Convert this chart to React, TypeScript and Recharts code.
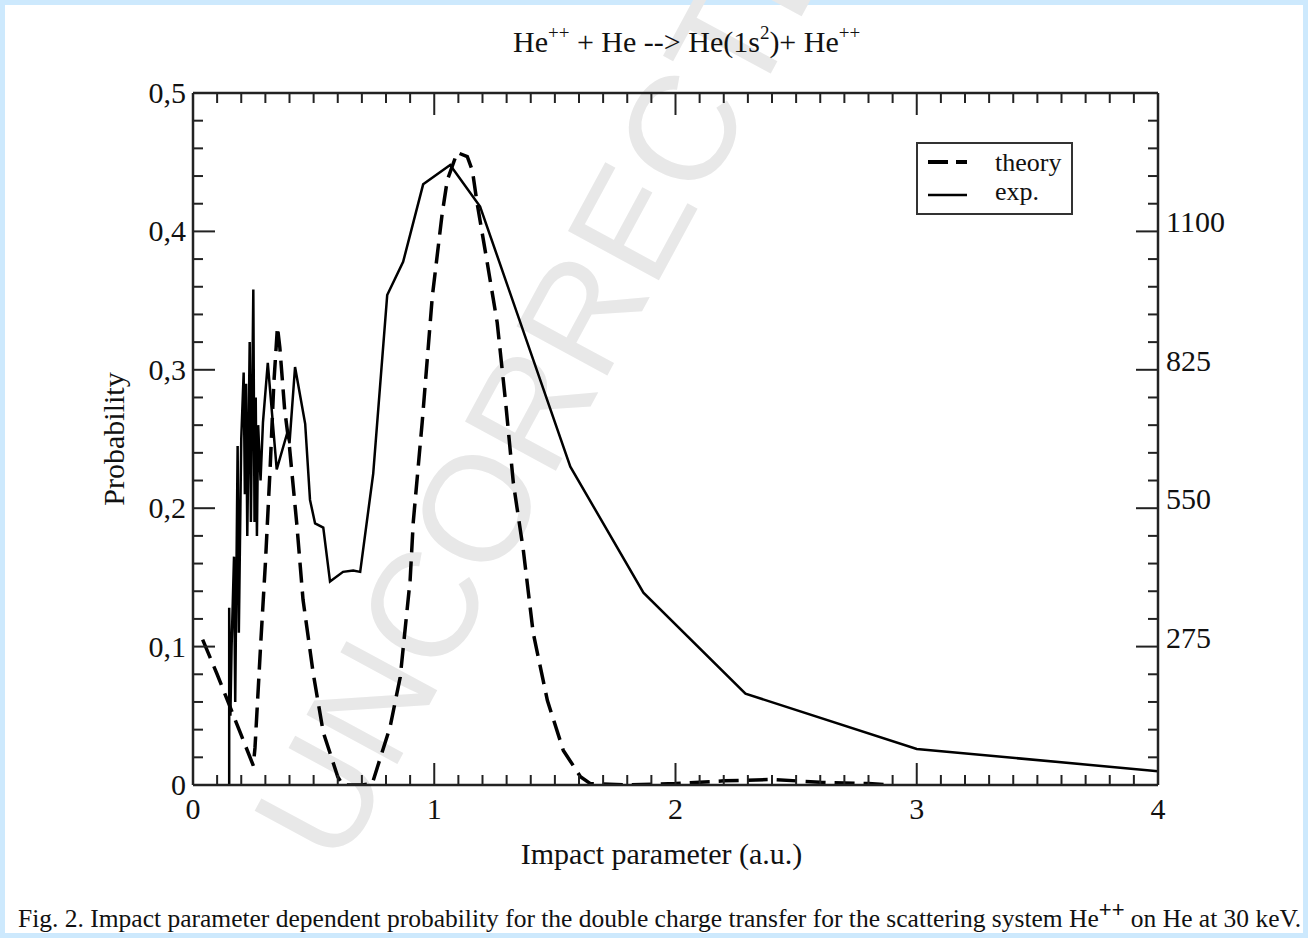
import React from 'react';
import { LineChart, Line, XAxis, YAxis, Legend } from 'recharts';

// theory curve (dashed)
const theoryB = [0.04, 0.1, 0.15, 0.2, 0.25, 0.257, 0.28, 0.3, 0.32, 0.335, 0.35, 0.36, 0.38, 0.4, 0.43, 0.456, 0.498, 0.54, 0.6, 0.62, 0.7, 0.743, 0.817, 0.859, 0.9, 0.913, 0.95, 0.992, 1.033, 1.054, 1.095, 1.137, 1.158, 1.178, 1.22, 1.261, 1.295, 1.328, 1.369, 1.41, 1.469, 1.535, 1.606, 1.647, 1.8, 2.0, 2.2, 2.4, 2.6, 2.8, 2.9];
const theoryP = [0.105, 0.08, 0.058, 0.036, 0.014, 0.027, 0.1, 0.16, 0.23, 0.29, 0.331, 0.316, 0.271, 0.244, 0.189, 0.134, 0.081, 0.038, 0.006, 0, 0, 0.001, 0.042, 0.078, 0.148, 0.19, 0.262, 0.353, 0.413, 0.437, 0.457, 0.454, 0.444, 0.42, 0.377, 0.334, 0.278, 0.218, 0.17, 0.11, 0.061, 0.025, 0.006, 0.001, 0, 0.001, 0.003, 0.004, 0.002, 0.001, 0];

// experiment (solid)
const expB = [0.15, 0.15, 0.155, 0.16, 0.17, 0.175, 0.185, 0.19, 0.2, 0.21, 0.215, 0.22, 0.225, 0.235, 0.24, 0.25, 0.255, 0.26, 0.265, 0.27, 0.28, 0.29, 0.31, 0.347, 0.39, 0.4, 0.423, 0.465, 0.485, 0.506, 0.54, 0.568, 0.622, 0.664, 0.693, 0.747, 0.805, 0.871, 0.954, 1.066, 1.19, 1.564, 1.867, 2.29, 3.0, 4.0];
const expP = [0, 0.128, 0.05, 0.1, 0.165, 0.06, 0.245, 0.11, 0.25, 0.298, 0.21, 0.29, 0.18, 0.32, 0.19, 0.358, 0.19, 0.28, 0.18, 0.26, 0.22, 0.262, 0.305, 0.228, 0.254, 0.247, 0.302, 0.261, 0.206, 0.189, 0.186, 0.147, 0.154, 0.155, 0.154, 0.225, 0.354, 0.378, 0.434, 0.448, 0.418, 0.23, 0.139, 0.066, 0.026, 0.01];

const xTicks = Array.from({ length: 41 }, (_, i) => i / 10);
const yTicks = Array.from({ length: 26 }, (_, i) => i / 50);
const rightTicks = Array.from({ length: 26 }, (_, i) => i * 55);
const rightLabels = [275, 550, 825, 1100];

const theory = theoryB.map((b, i) => ({ b, p: theoryP[i] }));
const exp = expB.map((b, i) => ({ b, p: expP[i] }));

const FONT = '"Liberation Serif", "Times New Roman", serif';
const MAJOR = 22;
const MINOR = 10;

const BottomTick = (props: any) => {
  const { x, y, payload } = props;
  const v = payload.value;
  const major = Number.isInteger(Math.round(v * 1000) / 1000);
  return (
    <g>
      <line x1={x} y1={y} x2={x} y2={y - (major ? MAJOR : MINOR)} stroke="#222" strokeWidth={2} />
      {major && (
        <text x={x} y={y + 34} textAnchor="middle" fontFamily={FONT} fontSize={30} fill="#111">
          {Math.round(v)}
        </text>
      )}
    </g>
  );
};

const TopTick = (props: any) => {
  const { x, y, payload } = props;
  const major = Number.isInteger(Math.round(payload.value * 1000) / 1000);
  return <line x1={x} y1={y} x2={x} y2={y + (major ? MAJOR : MINOR)} stroke="#222" strokeWidth={2} />;
};

const LeftTick = (props: any) => {
  const { x, y, payload } = props;
  const k = Math.round(payload.value * 50);
  const major = k % 5 === 0;
  const label = k === 0 ? '0' : payload.value.toFixed(1).replace('.', ',');
  return (
    <g>
      <line x1={x} y1={y} x2={x + (major ? MAJOR : MINOR)} y2={y} stroke="#222" strokeWidth={2} />
      {major && (
        <text x={x - 7} y={y + 10} textAnchor="end" fontFamily={FONT} fontSize={30} fill="#111">
          {label}
        </text>
      )}
    </g>
  );
};

const RightTick = (props: any) => {
  const { x, y, payload } = props;
  const v = payload.value;
  const major = v % 275 === 0;
  return (
    <g>
      <line x1={x} y1={y} x2={x - (major ? MAJOR : MINOR)} y2={y} stroke="#222" strokeWidth={2} />
      {rightLabels.includes(v) && (
        <text x={x + 8} y={y + 1} textAnchor="start" fontFamily={FONT} fontSize={30} fill="#111">
          {v}
        </text>
      )}
    </g>
  );
};

const LegendBox = () => (
  <svg width={157} height={73} style={{ display: 'block' }}>
    <rect x={1} y={1} width={155} height={71} fill="#fff" stroke="#333" strokeWidth={2} />
    <line x1={12} y1={20} x2={51} y2={20} stroke="#000" strokeWidth={4} strokeDasharray="20 8" />
    <line x1={12} y1={53} x2={51} y2={53} stroke="#000" strokeWidth={2.5} />
    <text x={79} y={29} fontFamily={FONT} fontSize={26} fill="#111">theory</text>
    <text x={79} y={58} fontFamily={FONT} fontSize={26} fill="#111">exp.</text>
  </svg>
);

export default function App() {
  return (
    <div style={{ position: 'fixed', left: 0, top: 0, width: 1308, height: 938, background: '#cde9fd' }}>
      <div style={{ position: 'absolute', left: 5, top: 5, width: 1298, height: 928, background: '#fff' }} />
      <svg width={1308} height={938} style={{ position: 'absolute', left: 0, top: 0 }}>
        <text
          x={340}
          y={870}
          transform="rotate(-61.6 340 870)"
          fontFamily='"Liberation Sans", Arial, sans-serif'
          fontSize={150}
          fill="#e8e8e8"
        >
          UNCORRECTED PROOF
        </text>
        <text x={513} y={52} fontFamily={FONT} fontSize={30} fill="#111">
          He<tspan dy={-13} fontSize={19}>++</tspan>
          <tspan dy={13}> + He --&gt; He(1s</tspan>
          <tspan dy={-13} fontSize={19}>2</tspan>
          <tspan dy={13}>)+ He</tspan>
          <tspan dy={-13} fontSize={19}>++</tspan>
        </text>
        <text x={18} y={927} fontFamily={FONT} fontSize={25.5} fill="#111">
          Fig. 2. Impact parameter dependent probability for the double charge transfer for the scattering system He
          <tspan dy={-10} fontSize={22} fontFamily='"Liberation Sans", Arial, sans-serif'>++</tspan>
          <tspan dy={10}> on He at 30 keV.</tspan>
        </text>
      </svg>
      <div style={{ position: 'absolute', left: 0, top: 0 }}>
        <LineChart width={1308} height={938} margin={{ top: 63, right: 70, bottom: 93, left: 113 }}>
          <XAxis
            xAxisId="bottom"
            dataKey="b"
            type="number"
            domain={[0, 4]}
            ticks={xTicks}
            interval={0}
            height={60}
            tickSize={0}
            tickMargin={0}
            tickLine={false}
            tick={<BottomTick />}
            axisLine={{ stroke: '#222', strokeWidth: 2.5 }}
            allowDataOverflow
            label={{
              content: (p: any) => {
                const vb = p.viewBox;
                return (
                  <text x={vb.x + vb.width / 2 - 14} y={vb.y + 79} textAnchor="middle" fontFamily={FONT} fontSize={30} fill="#111">
                    Impact parameter (a.u.)
                  </text>
                );
              },
            }}
          />
          <XAxis
            xAxisId="top"
            orientation="top"
            dataKey="b"
            type="number"
            domain={[0, 4]}
            ticks={xTicks}
            interval={0}
            height={30}
            tickSize={0}
            tickMargin={0}
            tickLine={false}
            tick={<TopTick />}
            axisLine={{ stroke: '#222', strokeWidth: 2.5 }}
            allowDataOverflow
          />
          <YAxis
            yAxisId="left"
            type="number"
            domain={[0, 0.5]}
            ticks={yTicks}
            interval={0}
            width={80}
            tickSize={0}
            tickMargin={0}
            tickLine={false}
            tick={<LeftTick />}
            axisLine={{ stroke: '#222', strokeWidth: 2.5 }}
            allowDataOverflow
            label={{
              content: (p: any) => {
                const vb = p.viewBox;
                const cx = vb.x;
                const cy = vb.y + vb.height / 2;
                return (
                  <text x={cx} y={cy} transform={`rotate(-90 ${cx} ${cy})`} textAnchor="middle" dominantBaseline="central" fontFamily={FONT} fontSize={30} fill="#111">
                    Probability
                  </text>
                );
              },
            }}
          />
          <YAxis
            yAxisId="right"
            orientation="right"
            type="number"
            domain={[0, 1375]}
            ticks={rightTicks}
            interval={0}
            width={80}
            tickSize={0}
            tickMargin={0}
            tickLine={false}
            tick={<RightTick />}
            axisLine={{ stroke: '#222', strokeWidth: 2.5 }}
            allowDataOverflow
          />
          <Legend
            layout="horizontal"
            align="center"
            verticalAlign="middle"
            content={<LegendBox />}
            wrapperStyle={{ position: 'absolute', left: 916, top: 142, width: 157, height: 73 }}
          />
          <Line
            xAxisId="bottom"
            yAxisId="left"
            data={theory}
            dataKey="p"
            name="theory"
            type="linear"
            stroke="#000"
            strokeWidth={3.5}
            strokeDasharray="20 9"
            dot={false}
            activeDot={false}
            isAnimationActive={false}
          />
          <Line
            xAxisId="bottom"
            yAxisId="left"
            data={exp}
            dataKey="p"
            name="exp."
            type="linear"
            stroke="#000"
            strokeWidth={2.5}
            dot={false}
            activeDot={false}
            isAnimationActive={false}
          />
        </LineChart>
      </div>
    </div>
  );
}
